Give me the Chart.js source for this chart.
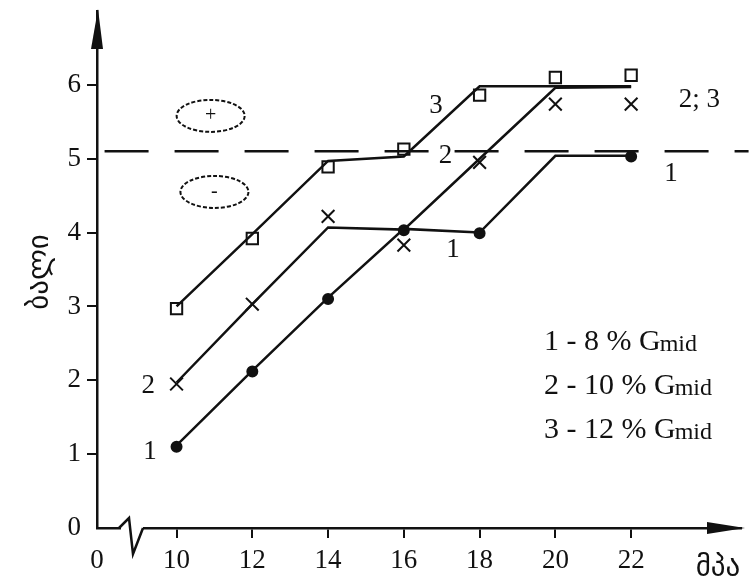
<!DOCTYPE html>
<html>
<head>
<meta charset="utf-8">
<script src="https://cdn.jsdelivr.net/npm/chart.js@4.4.0/dist/chart.umd.min.js"></script>
<style>
  body { margin: 0; background: #fff; }
  #chart { display: block; }
</style>
</head>
<body>
<canvas id="chart" width="752" height="585"></canvas>
<script>
// stress values (MPa) where the curves were measured
const stress = [10, 12, 14, 16, 18, 20, 22];
const xTicks = [10, 12, 14, 16, 18, 20, 22];
const yTicks = [0, 1, 2, 3, 4, 5, 6];

// broken lines drawn through each curve
const line1 = [1.12, 2.13, 3.12, 4.05, 4.0, 5.04, 5.04];
const line2 = [1.97, 3.03, 4.07, 4.04, 5.0, 5.96, 5.97];
const line3 = [3.0, 3.98, 4.97, 5.03, 5.98, 5.98, 5.98];

// measured points, they sit a little off the lines
const marks1 = [1.1, 2.12, 3.1, 4.03, 3.99, null, 5.03];
const marks2 = [1.95, 3.03, 4.22, 3.83, 4.95, 5.74, 5.74];
const marks3 = [2.97, 3.92, 4.89, 5.13, 5.86, 6.1, 6.13];

const threshold = 5.1;
const legendLines = ['1 - 8 % G', '2 - 10 % G', '3 - 12 % G'];

const X_MIN = 7.9, X_MAX = 24.9;
const serif = '"Liberation Serif", "DejaVu Serif", serif';
const ink = '#111';

const pts = ys => stress.map((x, i) => ({ x: x, y: ys[i] }));

function lineSet(ys) {
    return { data: pts(ys), showLine: true, borderColor: ink, borderWidth: 2.5, pointRadius: 0 };
}
function markSet(ys, style, r, fill) {
    return {
        data: pts(ys), showLine: false, pointStyle: style, pointRadius: r,
        pointBorderColor: ink, pointBorderWidth: 2,
        pointBackgroundColor: fill ? ink : 'rgba(0,0,0,0)'
    };
}

// text, arrows, ellipses and the axis break
const decor = {
    id: 'decor',
    afterDraw(chart) {
        const c = chart.ctx, xs = chart.scales.x, ys = chart.scales.y, a = chart.chartArea;
        const px = v => xs.getPixelForValue(v), py = v => ys.getPixelForValue(v);
        c.save();
        c.fillStyle = ink; c.strokeStyle = ink;

        // arrow heads
        c.beginPath();
        c.moveTo(a.left + 1, a.top - 2); c.lineTo(a.left - 6, a.top + 38); c.lineTo(a.left + 6, a.top + 38);
        c.closePath(); c.fill();
        c.beginPath();
        c.moveTo(a.right + 4, a.bottom); c.lineTo(a.right - 34, a.bottom - 6); c.lineTo(a.right - 34, a.bottom + 6);
        c.closePath(); c.fill();

        // axis break
        c.fillStyle = '#fff';
        c.fillRect(a.left + 24, a.bottom - 3, 22, 6);
        c.fillStyle = ink;
        c.lineWidth = 2.5;
        c.beginPath();
        c.moveTo(a.left + 22, a.bottom);
        c.lineTo(a.left + 32, a.bottom - 10);
        c.lineTo(a.left + 36, a.bottom + 26);
        c.lineTo(a.left + 46, a.bottom);
        c.stroke();

        // plus / minus ellipses
        c.lineWidth = 2;
        c.setLineDash([4, 2]);
        [[10.9, 5.58], [11.0, 4.55]].forEach(e => {
            c.beginPath();
            c.ellipse(px(e[0]), py(e[1]), 34, 16, 0, 0, Math.PI * 2);
            c.stroke();
        });
        c.setLineDash([]);
        c.font = '20px ' + serif;
        c.textAlign = 'center'; c.textBaseline = 'middle';
        c.fillText('+', px(10.9), py(5.58));
        c.fillText('-', px(11.0), py(4.55));

        // curve numbers
        c.font = '27px ' + serif;
        [[9.25, 1.93, '2'], [9.3, 1.03, '1'], [16.85, 5.72, '3'], [17.1, 5.04, '2'],
         [17.3, 3.77, '1'], [23.8, 5.8, '2; 3'], [23.05, 4.8, '1']].forEach(t => {
            c.fillText(t[2], px(t[0]), py(t[1]));
        });

        // legend block
        c.textAlign = 'left'; c.textBaseline = 'alphabetic';
        legendLines.forEach((s, i) => {
            const x0 = 544, y0 = 350 + i * 44;
            c.font = '30px ' + serif;
            c.fillText(s, x0, y0);
            const w = c.measureText(s).width;
            c.font = '24px ' + serif;
            c.fillText('mid', x0 + w - 1, y0 + 1);
        });

        // axis titles
        c.font = '29px "DejaVu Sans", sans-serif';
        c.textAlign = 'center'; c.textBaseline = 'middle';
        c.fillText('მპა', 718, 568);
        c.save();
        c.translate(40, 272);
        c.rotate(-Math.PI / 2);
        c.fillText('ბალი', 0, 0);
        c.restore();
        c.restore();
    }
};

new Chart(document.getElementById('chart'), {
    type: 'scatter',
    data: {
        datasets: [
            { data: [{ x: 8.1, y: threshold }, { x: 25.1, y: threshold }], showLine: true,
              borderColor: ink, borderWidth: 2.5, borderDash: [44, 26], pointRadius: 0, clip: false },
            lineSet(line1),
            lineSet(line2),
            lineSet(line3),
            markSet(marks1, 'circle', 5, true),
            markSet(marks2, 'crossRot', 9, false),
            markSet(marks3, 'rect', 8, false)
        ]
    },
    options: {
        responsive: false,
        animation: false,
        layout: { padding: { top: 10, right: 8, left: 0, bottom: 0 } },
        plugins: { legend: { display: false }, tooltip: { enabled: false } },
        scales: {
            x: {
                type: 'linear', min: X_MIN, max: X_MAX,
                afterBuildTicks: axis => { axis.ticks = [X_MIN].concat(xTicks).map(v => ({ value: v })); },
                afterFit: s => { s.height = 57; s.paddingLeft = 0; s.paddingRight = 0; },
                ticks: {
                    autoSkip: false, maxRotation: 0, padding: 7, color: ink,
                    font: { family: serif, size: 27 },
                    callback: v => v === X_MIN ? '0' : v
                },
                grid: {
                    drawOnChartArea: false, tickLength: 10, lineWidth: 2,
                    color: ctx => ctx.index === 0 ? 'rgba(0,0,0,0)' : ink
                },
                border: { color: ink, width: 2.5 }
            },
            y: {
                min: 0, max: 7.0,
                afterBuildTicks: axis => { axis.ticks = yTicks.map(v => ({ value: v })); },
                afterFit: s => { s.width = 97; s.paddingTop = 0; s.paddingBottom = 0; },
                ticks: { padding: 6, color: ink, font: { family: serif, size: 27 } },
                grid: {
                    drawOnChartArea: false, tickLength: 10, lineWidth: 2,
                    color: ctx => ctx.index === 0 ? 'rgba(0,0,0,0)' : ink
                },
                border: { color: ink, width: 2.5 }
            }
        }
    },
    plugins: [decor]
});
</script>
</body>
</html>
